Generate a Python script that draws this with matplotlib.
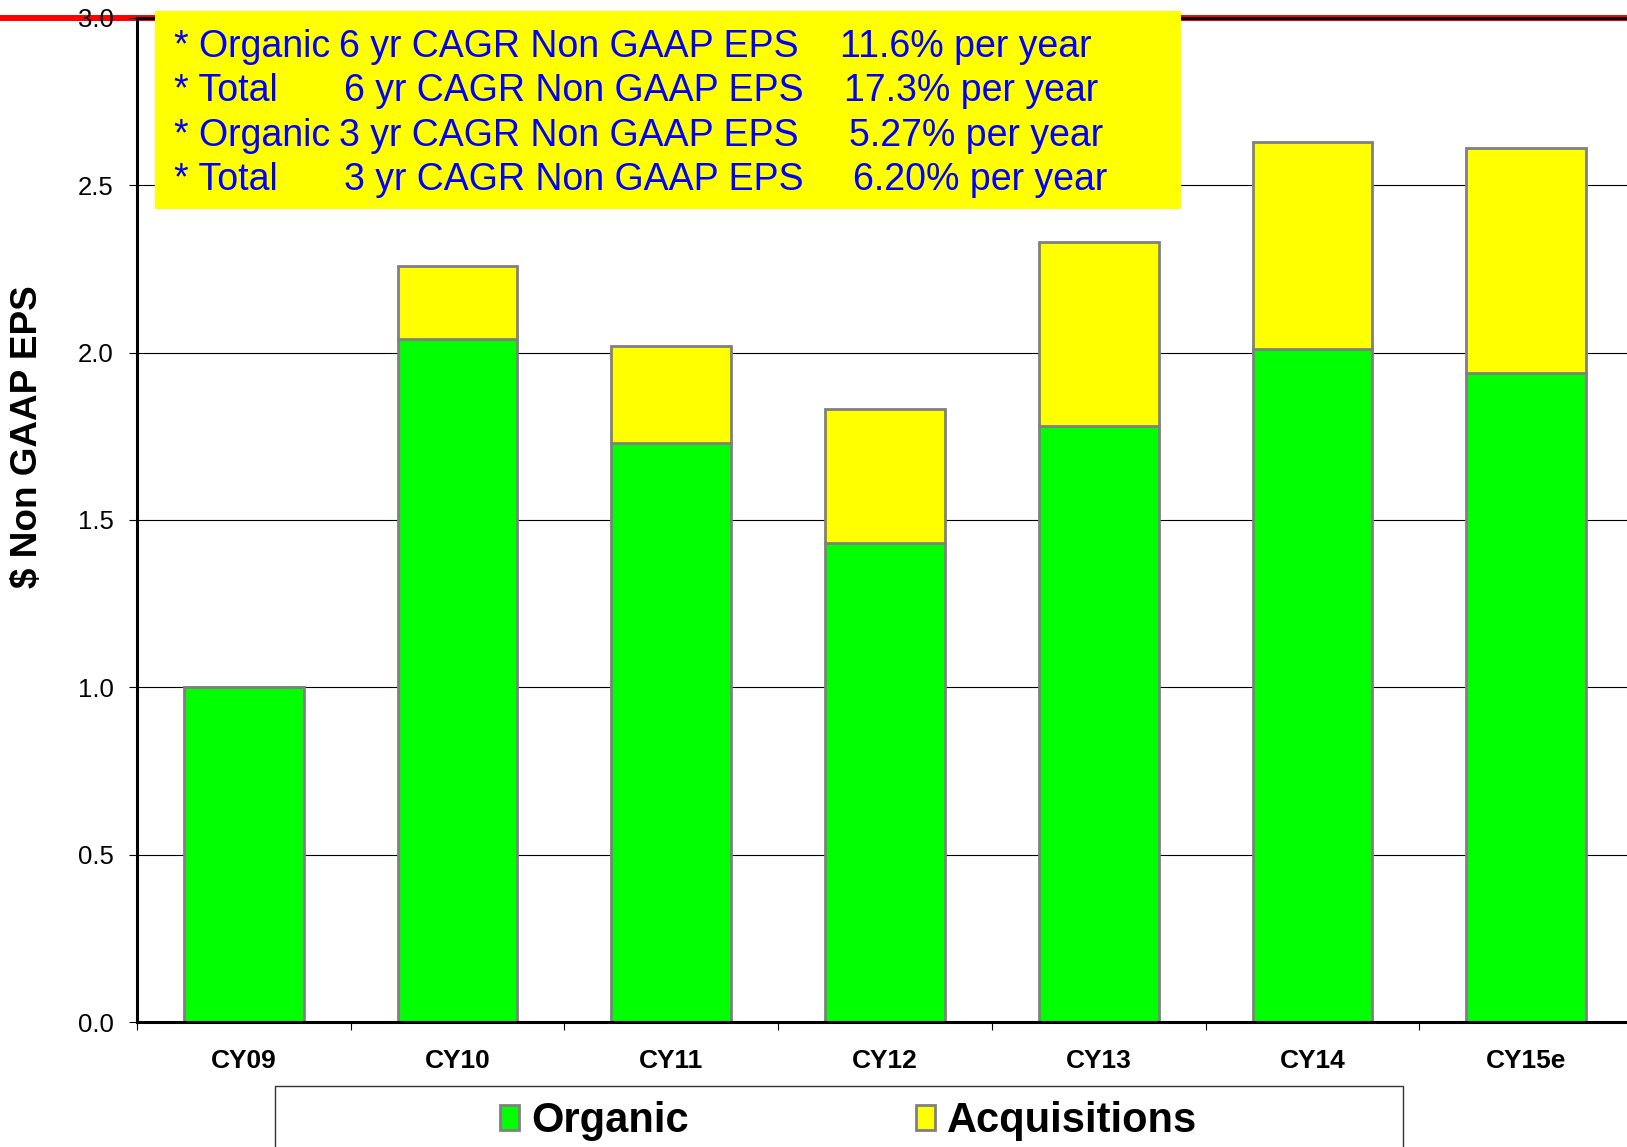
import matplotlib
matplotlib.use("Agg")
import matplotlib.pyplot as plt
from matplotlib.patches import Rectangle
from matplotlib.lines import Line2D
import numpy as np

# Non-GAAP EPS split into organic growth and acquisition contribution
categories = ["CY09", "CY10", "CY11", "CY12", "CY13", "CY14", "CY15e"]
organic = [1.00, 2.04, 1.73, 1.43, 1.78, 2.01, 1.94]
acquisitions = [0.00, 0.22, 0.29, 0.40, 0.55, 0.62, 0.67]

yticks = [0.0, 0.5, 1.0, 1.5, 2.0, 2.5, 3.0]

# CAGR summary lines: (label, metric, value)
summary_labels = ["* Organic", "* Total", "* Organic", "* Total"]
summary_metrics = ["6 yr CAGR Non GAAP EPS", "6 yr CAGR Non GAAP EPS",
                   "3 yr CAGR Non GAAP EPS", "3 yr CAGR Non GAAP EPS"]
summary_values = ["11.6% per year", "17.3% per year",
                  "5.27% per year", "6.20% per year"]

W, H = 1627, 1147
plt.rcParams['font.family'] = ['Liberation Sans', 'DejaVu Sans']

fig = plt.figure(figsize=(W / 100, H / 100), dpi=100)
fig.patch.set_facecolor('white')


def fx(px):
    return px / W


def fy(py):
    return 1 - py / H


ax_left, ax_right, ax_top, ax_bot = 137, 1633, 17.8, 1022
ax = fig.add_axes([fx(ax_left), fy(ax_bot), (ax_right - ax_left) / W,
                   (ax_bot - ax_top) / H])
ax.set_facecolor('none')

x = np.arange(len(categories))
edge = '#808080'
b1 = ax.bar(x, organic, width=0.56, color='#00FF00', edgecolor=edge,
            linewidth=2.0, label='Organic', zorder=2)
b2 = ax.bar(x, acquisitions, width=0.56, bottom=organic, color='#FFFF00',
            edgecolor=edge, linewidth=2.0, label='Acquisitions', zorder=2)

ax.set_xlim(-0.5, 6.5)
ax.set_ylim(0, 3.0)
ax.set_yticks(yticks)
ax.set_yticklabels([f"{v:.1f}" for v in yticks], fontsize=18.5)
ax.tick_params(axis='y', direction='out', length=6, width=0.8, pad=11)

# category boundaries get tick marks, centres get labels
ax.set_xticks(np.arange(-0.5, 6.5, 1.0))
ax.set_xticklabels([])
ax.tick_params(axis='x', which='major', direction='out', length=6, width=0.8)
ax.set_xticks(x, minor=True)
ax.set_xticklabels(categories, minor=True, fontsize=19, fontweight='bold')
ax.tick_params(axis='x', which='minor', length=0, pad=19.5)

ax.set_axisbelow(True)
ax.yaxis.grid(True, color='black', linewidth=0.8)
ax.xaxis.grid(False)
for s in ['left', 'bottom', 'top']:
    ax.spines[s].set_linewidth(2.2)
    ax.spines[s].set_color('black')
ax.spines['right'].set_visible(False)

# red reference line at the top of the scale, across the full width
fig.add_artist(Line2D([0, 1], [fy(ax_top), fy(ax_top)], color='#FF0000',
                      linewidth=4.3, zorder=-1, transform=fig.transFigure))

fig.text(fx(28), fy(437), "$ Non GAAP EPS", rotation=90, ha='center',
         va='center', fontsize=26.6, fontweight='bold')

# yellow summary box
fig.add_artist(Rectangle((fx(154.6), fy(208.5)), (1180.8 - 154.6) / W,
                         (208.5 - 11.4) / H, transform=fig.transFigure,
                         facecolor='#FFFF00', edgecolor='none', zorder=5))
line_y = [46.6, 91.2, 135.9, 180.5]
metric_x = [339, 343.5, 339, 343.5]
value_x = [840.5, 843.6, 848.8, 853]
for i in range(4):
    kw = dict(fontsize=27, color='#0000FF', va='center', ha='left', zorder=6)
    fig.text(fx(174), fy(line_y[i]), summary_labels[i], **kw)
    fig.text(fx(metric_x[i]), fy(line_y[i]), summary_metrics[i], **kw)
    fig.text(fx(value_x[i]), fy(line_y[i]), summary_values[i], **kw)

# legend frame running off the bottom edge
fig.add_artist(Rectangle((fx(275), fy(1160)), (1403 - 275) / W,
                         (1160 - 1086.4) / H, transform=fig.transFigure,
                         facecolor='white', edgecolor='#333333',
                         linewidth=1.0, zorder=4))
leg = fig.legend(handles=[b1, b2], labels=['Organic', 'Acquisitions'],
                 loc='center left', bbox_to_anchor=(fx(500), fy(1121)),
                 bbox_transform=fig.transFigure, ncol=2, frameon=False,
                 borderpad=0, borderaxespad=0, handlelength=0.46,
                 handleheight=0.54, handletextpad=0.29, columnspacing=5.45,
                 prop={'weight': 'bold', 'size': 30})
leg.set_zorder(6)

fig.savefig("out.png", dpi=100)
